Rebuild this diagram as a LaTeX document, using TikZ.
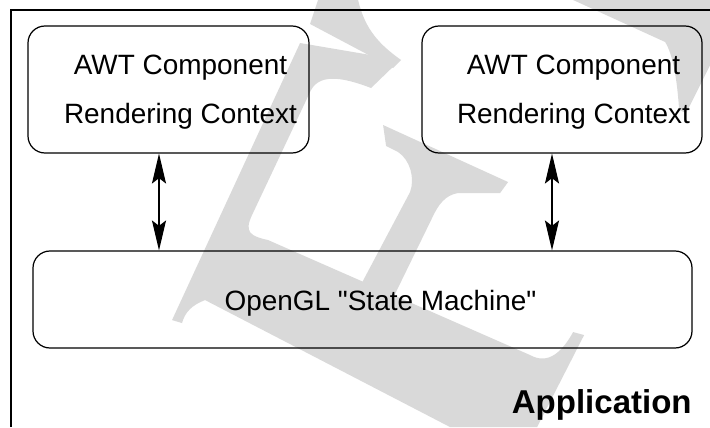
\documentclass[tikz,border=0pt]{standalone}
\usepackage{fontspec}
\setmainfont{Liberation Sans}
\newfontfamily\plainsans{Liberation Sans}
\usetikzlibrary{arrows.meta}

\definecolor{wmgray}{gray}{0.85}
\tikzset{
  ctx/.style={draw, rounded corners=0.34cm, line width=0.7pt, inner sep=0pt},
  lbl/.style={align=center, inner sep=0pt, font=\plainsans\fontsize{15.9pt}{27.9pt}\selectfont},
  link/.style={line width=0.7pt, {Stealth[length=17pt,width=8pt,inset=3pt]}-{Stealth[length=17pt,width=8pt,inset=3pt]}},
  wm/.style={fill=wmgray, draw=none}
}

\begin{document}
\begin{tikzpicture}
  \useasboundingbox (0,0) rectangle (14.2,8.54);
  % watermark
  \begin{scope}[x=0.02cm, y=-0.02cm, yshift=8.54cm]
    \path[wm] (318,0) -- (358,0) .. controls (365,30) and (380,45) .. (401,60) -- (393,68) -- (310,24) -- cycle;
    \path[wm] (300,43) -- (400,60) -- (371,88) .. controls (340,76) and (318,74) .. (310,92) -- (252,215) .. controls (244,232) and (250,236) .. (268,240) -- (530,355) .. controls (548,365) and (562,352) .. (573,332) -- (584,335) -- (537,427) -- (450,427) -- (205,300) .. controls (192,305) and (185,312) .. (182,323) -- (172,320) -- cycle;
    \path[wm] (383,125) -- (508,182) -- (500,193) -- (458,193) .. controls (445,195) and (438,205) .. (432,218) -- (392,300) -- (358,290) -- (410,192) .. controls (415,178) and (410,160) .. (398,152) -- (386,146) -- cycle;
    \path[wm] (573,0) -- (710,0) -- (710,65) -- (686,113) -- (679,110) .. controls (677,80) and (673,55) .. (665,42) -- cycle;
  \end{scope}
  \draw[line width=0.6pt] (0.22,0) -- (0.22,8.34) -- (14.2,8.34);
  \node[ctx, minimum width=5.62cm, minimum height=2.54cm] (ctxL) at (3.37,6.75) {};
  \node[ctx, minimum width=5.6cm, minimum height=2.54cm] (ctxR) at (11.24,6.75) {};
  \node[ctx, minimum width=13.18cm, minimum height=1.94cm] (gl) at (7.25,2.55) {};
  \node[lbl] (ctxLtxt) at (3.61,6.70) {AWT Component\\Rendering Context};
  \node[lbl] (ctxRtxt) at (11.47,6.70) {AWT Component\\Rendering Context};
  \node[lbl, anchor=base] (gltxt) at (7.61,2.34) {OpenGL "State Machine"};
  \node[anchor=base east, inner sep=0pt, font=\fontsize{18.8pt}{22pt}\selectfont\bfseries] (app) at (13.84,0.28) {Application};
  \coordinate (jL) at ([xshift=-0.19cm]ctxL.south);
  \coordinate (jR) at ([xshift=-0.2cm]ctxR.south);
  \draw[link] (jL) -- (jL |- gl.north);
  \draw[link] (jR) -- (jR |- gl.north);
\end{tikzpicture}
\end{document}
